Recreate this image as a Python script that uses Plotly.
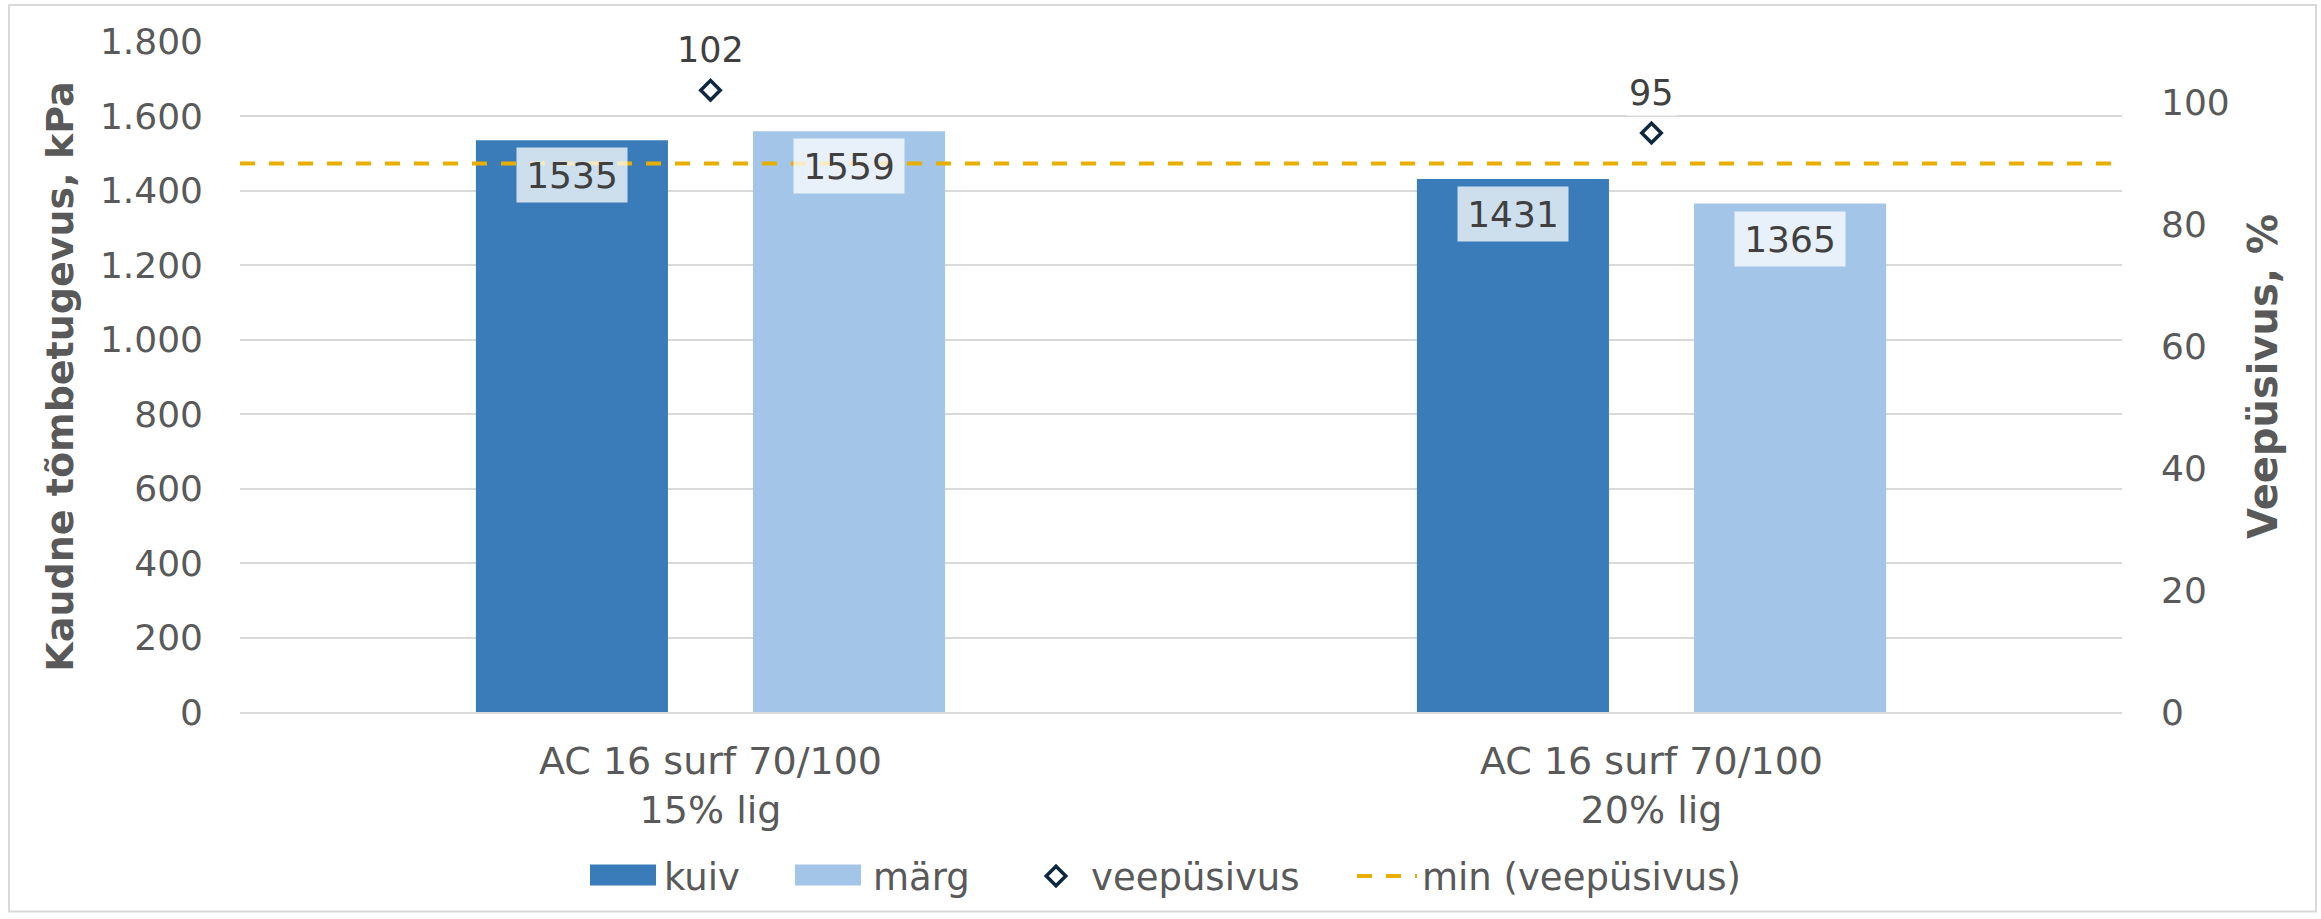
import plotly.graph_objects as go

# data
categories = ["AC 16 surf 70/100<br>15% lig", "AC 16 surf 70/100<br>20% lig"]
kuiv = [1535, 1431]
marg = [1559, 1365]
veepusivus = [102, 95]
min_veepusivus = 90

W, H = 2321, 919
ML, MR, MT, MB = 240, 199, 41, 205
BARGAP = 0.411
TXT = "#595959"
FONT = "DejaVu Sans"
C_KUIV = "#3A7CB9"
C_MARG = "#A3C6E8"
pw = W - ML - MR
ph = H - MT - MB

fig = go.Figure()

fig.add_trace(go.Bar(x=categories, y=kuiv, name="kuiv", legend="legend",
                     marker=dict(color=C_KUIV, line=dict(width=0))))
fig.add_trace(go.Bar(x=categories, y=marg, name="märg", legend="legend2",
                     marker=dict(color=C_MARG, line=dict(width=0))))

fig.add_trace(go.Scatter(
    x=categories, y=veepusivus, name="veepüsivus", mode="markers", yaxis="y2",
    legend="legend3",
    marker=dict(symbol="diamond", size=15, color="white",
                line=dict(color="#0E2841", width=3.5)),
))

# min line spans the whole plot width -> hidden numeric x axis
fig.add_trace(go.Scatter(
    x=[0, 1], y=[min_veepusivus, min_veepusivus], name="min (veepüsivus)",
    mode="lines", xaxis="x2", yaxis="y2", legend="legend4",
    line=dict(color="#E8AE00", width=4, dash="15px,14px"),
))

# bar value labels in semi-transparent boxes
off = (1 - BARGAP) / 4
for i, (a, b) in enumerate(zip(kuiv, marg)):
    for xv, yv in ((i - off, a), (i + off, b)):
        fig.add_annotation(
            x=xv, y=yv, xref="x", yref="y", text=str(yv), showarrow=False,
            yanchor="top", yshift=-7, width=108, height=52, borderpad=1,
            bgcolor="rgba(255,255,255,0.75)",
            font=dict(family=FONT, size=36, color="#404040"),
        )

for i, v in enumerate(veepusivus):
    fig.add_annotation(
        x=i, y=v, xref="x", yref="y2", text=str(v), showarrow=False,
        yshift=40, bgcolor="white", borderpad=2,
        font=dict(family=FONT, size=35, color="#404040"),
    )


def px_x(px):
    return (px - ML) / pw


def px_y(py):
    return (H - MB - py) / ph


# outer chart border
fig.add_shape(
    type="rect", xref="paper", yref="paper",
    x0=px_x(9), x1=px_x(2316), y0=px_y(914), y1=px_y(5),
    line=dict(color="#D9D9D9", width=2), layer="below",
)

# wider legend swatches for the bar series (Excel-style)
for x0, col in ((590, C_KUIV), (795, C_MARG)):
    fig.add_shape(
        type="rect", xref="paper", yref="paper",
        x0=px_x(x0), x1=px_x(x0 + 66), y0=px_y(888), y1=px_y(867),
        fillcolor=col, line=dict(width=0), layer="above",
    )


# one legend per entry so the spacing can follow the original
def leg(px):
    return dict(orientation="h", x=px_x(px), xanchor="left", y=-0.245,
                yanchor="middle", font=dict(size=37, color=TXT), itemwidth=60,
                bgcolor="rgba(0,0,0,0)")


fig.update_layout(
    width=W, height=H,
    margin=dict(l=ML, r=MR, t=MT, b=MB),
    paper_bgcolor="white", plot_bgcolor="white",
    font=dict(family=FONT, size=36, color=TXT),
    barmode="group", bargap=BARGAP, bargroupgap=0.307,
    showlegend=True,
    legend=leg(594), legend2=leg(803),
    legend3=leg(1021), legend4=leg(1352),
    xaxis=dict(type="category", showgrid=False, showline=True, linecolor="#D9D9D9",
               linewidth=2, ticks="", ticklabelstandoff=14,
               tickfont=dict(size=38, color=TXT)),
    xaxis2=dict(overlaying="x", range=[0, 1], visible=False),
    yaxis=dict(range=[0, 1801.5], dtick=200, tickformat=",d",
               showgrid=True, gridcolor="#D9D9D9", gridwidth=2, zeroline=False,
               ticks="", ticklabelstandoff=36,
               title=dict(text="<b>Kaudne tõmbetugevus, kPa</b>", standoff=14,
                          font=dict(size=38, color=TXT))),
    yaxis2=dict(overlaying="y", side="right", range=[0, 110 * 1801.5 / 1800], dtick=20,
                showgrid=False, zeroline=False, ticks="", ticklabelstandoff=38,
                title=dict(text="<b>Veepüsivus, %</b>", standoff=20,
                           font=dict(size=40, color=TXT))),
    separators=",.",
)

# drop the default 8px page margin so the figure sits at (0, 0)
fig.write_html("out.html", config={"displayModeBar": False},
               post_script="document.body.style.margin='0';")
